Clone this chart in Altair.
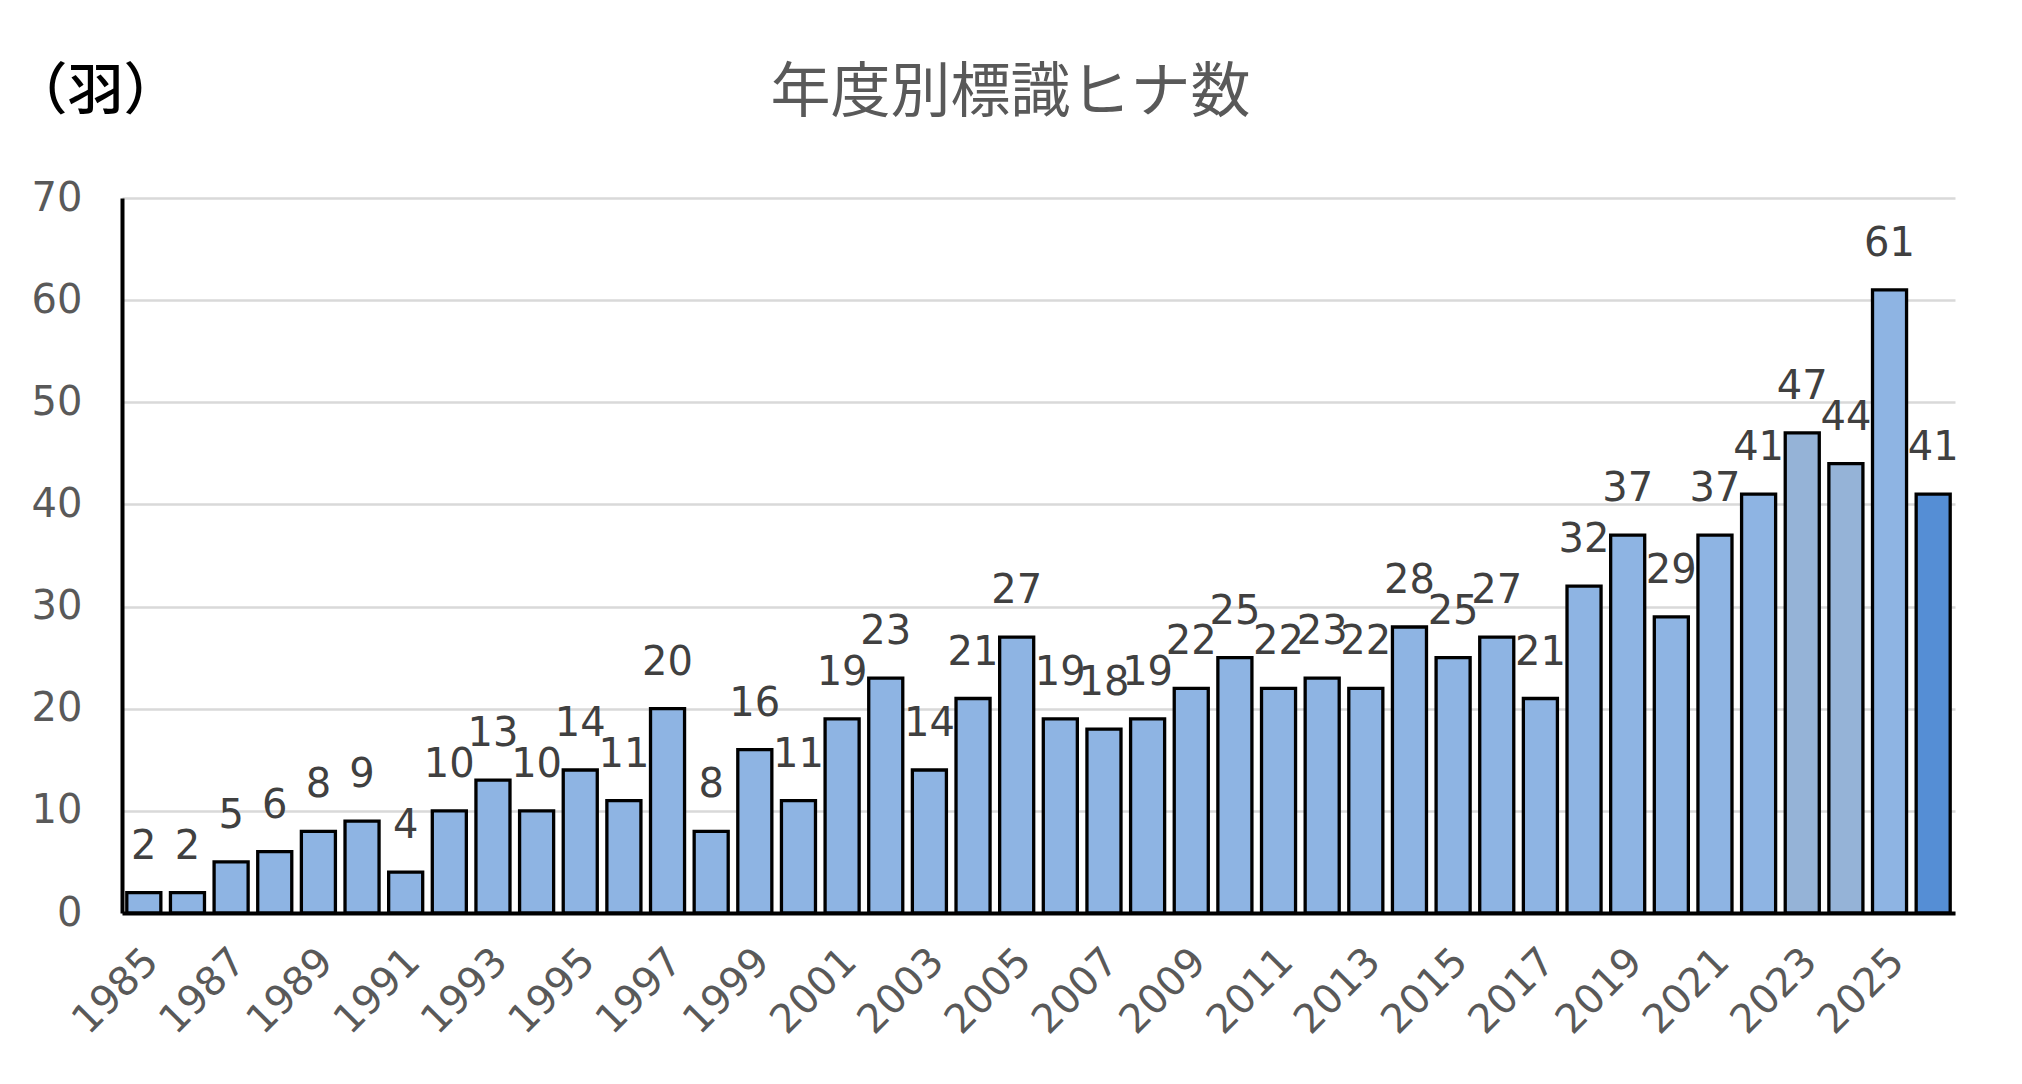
import altair as alt
import pandas as pd

# ---- data ----
years = list(range(1985, 2027))
counts = [2, 2, 5, 6, 8, 9, 4, 10, 13, 10, 14, 11, 20, 8, 16, 11, 19, 23, 14, 21,
          27, 19, 18, 19, 22, 25, 22, 23, 22, 28, 25, 27, 21, 32, 37, 29, 37, 41,
          47, 44, 61, 41]
label_years = list(range(1985, 2027, 2))
y_ticks = [0, 10, 20, 30, 40, 50, 60, 70]
title_text = "年度別標識ヒナ数"
unit_text = "（羽）"

df = pd.DataFrame({"year": years, "count": counts})

FONT = "DejaVu Sans"
CJK = "Noto Sans CJK JP"

x_enc = alt.X(
    "year:O",
    scale=alt.Scale(paddingInner=0.22, paddingOuter=0.11),
    axis=alt.Axis(
        values=label_years, labelAngle=-45, labelAlign="right", labelBaseline="top",
        labelPadding=28, labelOffset=-6, labelFontSize=40, labelFont=FONT,
        labelColor="#595959", labelOverlap=False, ticks=False, domainColor="black",
        domainWidth=4, grid=False, title=None,
    ),
)
y_enc = alt.Y(
    "count:Q",
    scale=alt.Scale(domain=[0, 70], nice=False),
    axis=alt.Axis(
        values=y_ticks, labelFontSize=40, labelFont=FONT, labelColor="#595959",
        labelPadding=40, ticks=False, domainColor="black", domainWidth=4,
        grid=True, gridColor="#d9d9d9", gridWidth=2.5,
        title=unit_text, titleAngle=0, titleFont=CJK, titleFontSize=56,
        titleFontWeight=500, titleColor="black", titleAlign="left",
        titleBaseline="alphabetic", titleX=-111, titleY=-90,
    ),
)

base = alt.Chart(df).transform_calculate(
    grp="datum.year == 2026 ? 'c' : ((datum.year == 2023 || datum.year == 2024) ? 'b' : 'a')"
)

bars = base.mark_bar(stroke="black", strokeWidth=3.3).encode(
    x=x_enc,
    y=y_enc,
    color=alt.Color("grp:N", scale=alt.Scale(domain=["a", "b", "c"],
                                            range=["#8EB4E3", "#95B3D7", "#558ED5"]),
                    legend=None),
)

labels = base.mark_text(baseline="alphabetic", dy=-34, fontSize=40, font=FONT,
                        color="#404040").encode(
    x=x_enc, y=y_enc, text="count:Q"
)

chart = alt.layer(bars, labels).properties(
    width=1833,
    height=715,
    title=alt.TitleParams(
        text=title_text, font=CJK, fontSize=60, fontWeight="normal", color="#595959",
        anchor="middle", frame="group", dx=-28, offset=20, dy=82,
    ),
    autosize=alt.AutoSizeParams(type="none"),
    padding={"left": 114, "top": 190, "right": 59, "bottom": 163},
    background="white",
).configure_view(stroke=None)

chart.save("out.html", embed_options={"renderer": "svg", "actions": False})
